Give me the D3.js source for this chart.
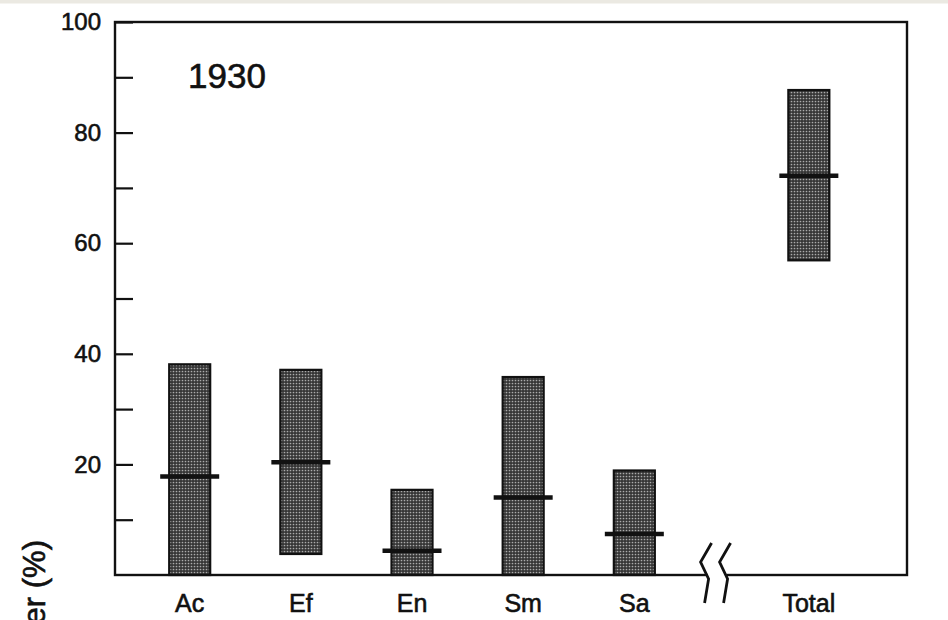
<!DOCTYPE html>
<html>
<head>
<meta charset="utf-8">
<script src="https://cdn.jsdelivr.net/npm/d3@7"></script>
<style>
  body { margin: 0; background: #fff; }
  svg { display: block; font-family: "Liberation Sans", Arial, sans-serif; }
  .ink { fill: #111; stroke: #111; stroke-width: 0.6px; }
</style>
</head>
<body>
<svg width="948" height="620"></svg>
<script>
/*
Data
*/
var categories = ["Ac", "Ef", "En", "Sm", "Sa", "Total"];
var lows  = [0, 3.8, 0, 0, 0, 56.9];
var highs = [38.1, 37.1, 15.4, 35.8, 18.9, 87.7];
var means = [17.8, 20.4, 4.4, 14.0, 7.4, 72.2];
var majorTicks = [20, 40, 60, 80, 100];
var minorTicks = [10, 30, 50, 70, 90];
var yearLabel = "1930";
var yLabel = "Cover (%)";

var svg = d3.select("svg"),
    margin = {top: 22, right: 41, bottom: 45, left: 115},
    width = 948 - margin.left - margin.right,
    height = 620 - margin.top - margin.bottom;

// thin grey strip along the top of the scan
svg.append("rect").attr("x", 0).attr("y", 0).attr("width", 948).attr("height", 3.5).attr("fill", "#ebe9e2");

// stipple pattern for the bars
var defs = svg.append("defs");
var pat = defs.append("pattern")
    .attr("id", "stip")
    .attr("patternUnits", "userSpaceOnUse")
    .attr("width", 3).attr("height", 3);
pat.append("rect").attr("width", 3).attr("height", 3).attr("fill", "#363636");
pat.append("circle").attr("cx", 1.5).attr("cy", 1.5).attr("r", 0.85).attr("fill", "#ababab");

var g = svg.append("g").attr("transform", "translate(" + margin.left + "," + margin.top + ")");

/*
Positions: Total sits after an axis break, a bit more than one step further
*/
var breakGap = 0.57;
function slot(i) { return i < 5 ? i : i + breakGap; }

var x = d3.scaleLinear().domain([-0.672, 6.453]).range([0, width]);
var y = d3.scaleLinear().domain([0, 100]).range([height, 0]);

var rows = categories.map(function(c, i) {
    return {name: c, pos: slot(i), low: lows[i], high: highs[i], mean: means[i]};
});

var barW = 41, meanW = 59;

// bars
g.selectAll(".bar")
    .data(rows)
  .enter().append("rect")
    .attr("class", "bar")
    .attr("x", function(d) { return x(d.pos) - barW / 2; })
    .attr("y", function(d) { return y(d.high); })
    .attr("width", barW)
    .attr("height", function(d) { return y(d.low) - y(d.high); })
    .attr("fill", "url(#stip)")
    .attr("stroke", "#111")
    .attr("stroke-width", 2.2);

// mean lines
g.selectAll(".mean")
    .data(rows)
  .enter().append("line")
    .attr("class", "mean")
    .attr("x1", function(d) { return x(d.pos) - meanW / 2; })
    .attr("x2", function(d) { return x(d.pos) + meanW / 2; })
    .attr("y1", function(d) { return y(d.mean); })
    .attr("y2", function(d) { return y(d.mean); })
    .attr("stroke", "#111")
    .attr("stroke-width", 4.5);

// frame
g.append("rect")
    .attr("width", width).attr("height", height)
    .attr("fill", "none")
    .attr("stroke", "#111")
    .attr("stroke-width", 2.4);

// y axis, ticks pointing inward
var yAxis = g.append("g")
    .call(d3.axisLeft(y).tickValues(majorTicks).tickSize(-18).tickPadding(14)
        .tickFormat(d3.format("d")));
yAxis.select(".domain").remove();
yAxis.selectAll("line").attr("stroke", "#111").attr("stroke-width", 2.2);
yAxis.selectAll("text")
    .attr("class", "ink")
    .style("font-size", "24px")
    .style("font-family", "'Liberation Sans', Arial, sans-serif");

var yMinor = g.append("g")
    .call(d3.axisLeft(y).tickValues(minorTicks).tickSize(-18).tickFormat(""));
yMinor.select(".domain").remove();
yMinor.selectAll("line").attr("stroke", "#111").attr("stroke-width", 2.2);

// category labels
g.selectAll(".xlab")
    .data(rows)
  .enter().append("text")
    .attr("class", "xlab ink")
    .attr("x", function(d) { return x(d.pos); })
    .attr("y", height + 37)
    .attr("text-anchor", "middle")
    .style("font-size", "25px")
    .text(function(d) { return d.name; });

// axis break symbol, halfway between Sa and Total
var bx = (x(slot(4)) + x(slot(5))) / 2 - 6;
g.append("rect")
    .attr("x", bx - 8).attr("y", height - 3)
    .attr("width", 19).attr("height", 6)
    .attr("fill", "#fff");
var zig = d3.line();
[bx - 9, bx + 10].forEach(function(x0) {
    g.append("path")
        .attr("d", zig([[x0 + 5, height - 32], [x0 - 6, height - 13], [x0 + 2, height + 4], [x0 - 2, height + 28]]))
        .attr("fill", "none")
        .attr("stroke", "#111")
        .attr("stroke-width", 2.8);
});

// year label
g.append("text")
    .attr("class", "ink")
    .attr("x", 73)
    .attr("y", 66)
    .style("font-size", "35px")
    .text(yearLabel);

// y axis title, mostly cut off at the bottom of the page as in the scan
svg.append("text")
    .attr("class", "ink")
    .attr("transform", "translate(45,540)rotate(-90)")
    .attr("text-anchor", "end")
    .style("font-size", "31px")
    .text(yLabel);
</script>
</body>
</html>
